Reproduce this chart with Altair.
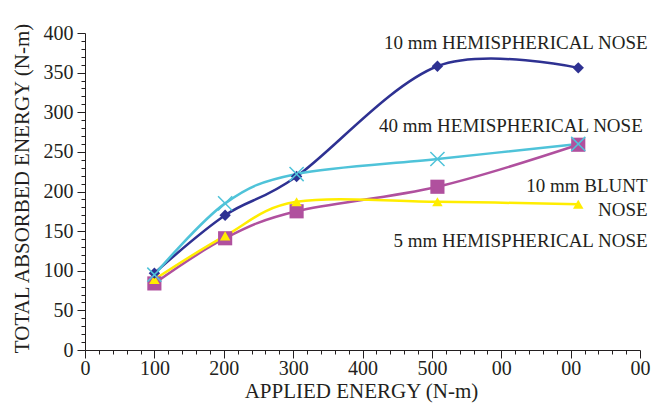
import altair as alt
import pandas as pd

applied = [100, 202, 305, 508, 711]
series = ["10 mm HEMISPHERICAL NOSE", "40 mm HEMISPHERICAL NOSE",
          "10 mm BLUNT NOSE", "5 mm HEMISPHERICAL NOSE"]
blue_vals = [97, 170, 219, 358, 356]
cyan_vals = [95, 185, 222, 241, 260]
magenta_vals = [84, 141, 175, 206, 259]
yellow_vals = [89, 144, 187, 187, 184]
colors = ["#2E3192", "#4FC3D9", "#B0509E", "#FFED00"]

ann_text = ["10 mm HEMISPHERICAL NOSE", "40 mm HEMISPHERICAL NOSE",
            "10 mm BLUNT", "NOSE", "5 mm HEMISPHERICAL NOSE"]
ann_x = [811, 804, 811, 811, 811]
ann_y = [388, 283, 207, 177, 138]

rows = []
for name, vals in zip(series, [blue_vals, cyan_vals, magenta_vals, yellow_vals]):
    for xv, yv in zip(applied, vals):
        rows.append({"series": name, "x": xv, "y": yv})
df = pd.DataFrame(rows)
ann = pd.DataFrame({"label": ann_text, "x": ann_x, "y": ann_y})

FONT = "Liberation Serif"
TXT = "#231F20"

x_enc = alt.X("x:Q", scale=alt.Scale(domain=[0, 800], nice=False, zero=True),
              axis=alt.Axis(values=list(range(0, 801, 20)),
                            labelExpr="datum.value % 100 != 0 ? '' : (datum.value >= 600 ? '00' : datum.label)",
                            tickSize={"condition": {"test": "datum.value % 100 === 0", "value": 8}, "value": 4},
                            labelOverlap=False, labelPadding=0, labelFlush=False,
                            title="APPLIED ENERGY (N-m)", titleX=276, titleY=41,
                            titleBaseline="middle", titleAlign="center",
                            grid=False))
y_enc = alt.Y("y:Q", scale=alt.Scale(domain=[0, 400], nice=False),
              axis=alt.Axis(values=list(range(0, 401, 10)),
                            labelExpr="datum.value % 50 != 0 ? '' : datum.label",
                            tickSize={"condition": {"test": "datum.value % 50 === 0", "value": 8}, "value": 4},
                            labelOverlap=False, labelPadding=4, labelFlush=False,
                            title="TOTAL ABSORBED ENERGY (N-m)", titleX=-63, titleY=155,
                            titleBaseline="middle", titleAlign="center", titleAngle=-90,
                            grid=False))
color_enc = alt.Color("series:N", scale=alt.Scale(domain=series, range=colors), legend=None)

base = alt.Chart(df).encode(x=x_enc, y=y_enc)

lines = base.mark_line(interpolate="cardinal", strokeWidth=2.5).encode(color=color_enc, detail="series:N")

xshape = "M-1,-1L1,1M-1,1L1,-1"
m_mag = base.transform_filter(alt.datum.series == series[2]).mark_point(
    shape="square", filled=True, size=200, color=colors[2], opacity=1)
m_yel = base.transform_filter(alt.datum.series == series[3]).mark_point(
    shape="triangle-up", filled=True, size=110, color=colors[3], opacity=1)
m_blu = base.transform_filter(alt.datum.series == series[0]).mark_point(
    shape="diamond", filled=True, size=130, color=colors[0], opacity=1)
m_cya = base.transform_filter(alt.datum.series == series[1]).mark_point(
    shape=xshape, filled=False, size=200, color=colors[1], strokeWidth=1.5, opacity=1)

texts = alt.Chart(ann).mark_text(align="right", baseline="middle", font=FONT,
                                 fontSize=19, color=TXT).encode(
    x=x_enc, y=y_enc, text="label:N")

chart = alt.layer(lines, m_mag, m_yel, m_blu, m_cya, texts).properties(
    width=555, height=317,
    autosize=alt.AutoSizeParams(type="none"),
    padding={"left": 77, "top": 25, "right": 18, "bottom": 54},
    background="white",
).configure_view(stroke=None).configure_axis(
    labelFont=FONT, labelFontSize=20, labelColor=TXT,
    titleFont=FONT, titleFontSize=21, titleFontWeight="normal", titleColor=TXT,
    domainColor="#231F20", tickColor="#231F20", domainWidth=1, tickWidth=1,
)

chart.save("out.html", embed_options={"renderer": "svg", "actions": False})
